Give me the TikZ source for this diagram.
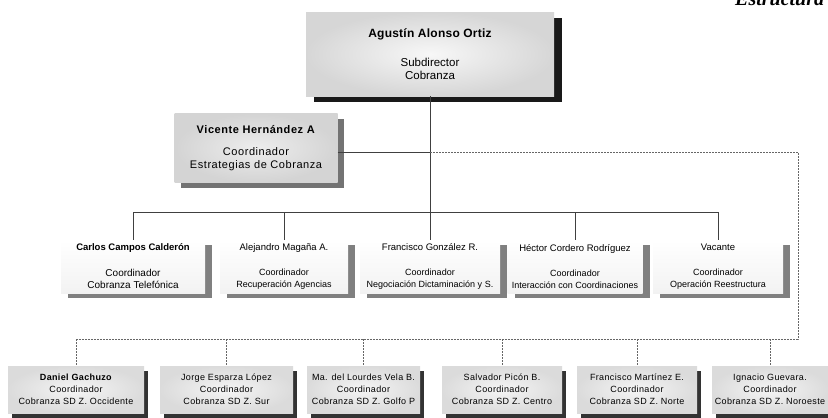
\documentclass[tikz,border=0pt]{standalone}
\usepackage{fontspec}
\setmainfont{Liberation Sans}
\newfontfamily\headfont{Liberation Serif}
\usetikzlibrary{shadows}

\tikzset{
  enlace/.style={line width=0.6pt, draw=black!75},
  punteado/.style={line width=0.6pt, draw=black!60, dash pattern=on 2pt off 1pt},
  jefe/.style={inner color=gray!6, outer color=gray!32, minimum width=248pt, minimum height=84pt,
    align=center, inner sep=0pt, font=\fontsize{11.5}{13}\selectfont,
    general shadow={fill=black!90, shadow xshift=8pt, shadow yshift=-6pt}},
  asesor/.style={inner color=gray!14, outer color=gray!34, minimum width=163pt, minimum height=69pt,
    align=center, inner sep=0pt, font=\fontsize{11}{12.5}\selectfont\addfontfeatures{LetterSpace=5},
    general shadow={fill=black!55, shadow xshift=6pt, shadow yshift=-5pt}},
  coord/.style={top color=white, bottom color=gray!10, minimum height=53pt,
    align=center, inner sep=0pt, font=\fontsize{9}{12.5}\selectfont,
    general shadow={fill=black!50, shadow xshift=7pt, shadow yshift=-5pt}},
  zona/.style={inner color=gray!8, outer color=gray!28, minimum height=47pt,
    align=center, inner sep=0pt, font=\fontsize{9}{12}\selectfont\addfontfeatures{LetterSpace=4},
    general shadow={fill=black!80, shadow xshift=4pt, shadow yshift=-5pt}}
}

\begin{document}
\begin{tikzpicture}[x=1pt,y=-1pt]
  \useasboundingbox[fill=white] (0,0) rectangle (828,418);

  % Titulo (cortado arriba)
  \node[anchor=base west, inner sep=0pt, font=\headfont\bfseries\itshape\fontsize{20}{20}\selectfont]
    (titulo) at (735,5) {Estructura};

  % Subdireccion
  \node[jefe] (agustin) at (430,54)
    {{\fontsize{12}{13}\selectfont\bfseries\addfontfeatures{LetterSpace=2}Agustín Alonso Ortiz}\\[16pt] Subdirector\\ Cobranza};

  % Asesor
  \node[asesor] (vicente) at (256,148)
    {\textbf{Vicente Hernández A}\\[10pt] Coordinador\\ Estrategias de Cobranza};

  % Coordinaciones
  \node[coord, minimum width=144pt] (carlos) at (133,266.5)
    {{\fontsize{9.5}{12.5}\selectfont\bfseries Carlos Campos Calderón}\\[13pt]
     {\fontsize{10}{12.5}\selectfont Coordinador}\\ {\fontsize{10}{12.5}\selectfont Cobranza Telefónica}};
  \node[coord, minimum width=128pt] (alejandro) at (284,266.5)
    {{\fontsize{9.5}{12.5}\selectfont Alejandro Magaña A.}\\[12.5pt] Coordinador\\ Recuperación Agencias};
  \node[coord, minimum width=140pt] (francisco) at (430,266.5)
    {{\fontsize{9.5}{12.5}\selectfont Francisco González R.}\\[12.5pt] Coordinador\\ Negociación Dictaminación y S.};
  \node[coord, minimum width=135pt] (hector) at (575,266.5)
    {{\fontsize{9.5}{12.5}\selectfont Héctor Cordero Rodríguez}\\[12.5pt] Coordinador\\ Interacción con Coordinaciones};
  \node[coord, minimum width=130pt] (vacante) at (718,266.5)
    {{\fontsize{9.5}{12.5}\selectfont Vacante}\\[12.5pt] Coordinador\\ Operación Reestructura};

  % Zonas
  \node[zona, minimum width=136pt] (daniel) at (76,389.5)
    {\textbf{Daniel Gachuzo}\\ Coordinador\\ Cobranza SD Z. Occidente};
  \node[zona, minimum width=133pt] (jorge) at (226.5,389.5)
    {Jorge Esparza López\\ Coordinador\\ Cobranza SD Z. Sur};
  \node[zona, minimum width=113pt] (lourdes) at (363.5,389.5)
    {Ma. del Lourdes Vela B.\\ Coordinador\\ Cobranza SD Z. Golfo P};
  \node[zona, minimum width=120pt] (salvador) at (502,389.5)
    {Salvador Picón B.\\ Coordinador\\ Cobranza SD Z. Centro};
  \node[zona, minimum width=120pt] (francisco2) at (637,389.5)
    {Francisco Martínez E.\\ Coordinador\\ Cobranza SD Z. Norte};
  \node[zona, minimum width=116pt] (ignacio) at (770,389.5)
    {Ignacio Guevara.\\ Coordinador\\ Cobranza SD Z. Noroeste};

  % Lineas de mando
  \coordinate (barra) at (0,212);
  \coordinate (cruce) at (430,152);
  \coordinate (esquina) at (798,339);
  \draw[enlace] (agustin.south) -- (francisco.north);
  \draw[enlace] (vicente.east |- cruce) -- (cruce);
  \draw[enlace] (barra -| carlos.north) -- (barra -| vacante.north);
  \foreach \n in {carlos,alejandro,hector,vacante}
    \draw[enlace] (barra -| \n.north) -- (\n.north);

  % Lineas punteadas
  \draw[punteado] (cruce) -| (esquina) -- (esquina -| daniel.north);
  \foreach \n in {daniel,jorge,lourdes,salvador,francisco2,ignacio}
    \draw[punteado] (esquina -| \n.north) -- (\n.north);
\end{tikzpicture}
\end{document}
